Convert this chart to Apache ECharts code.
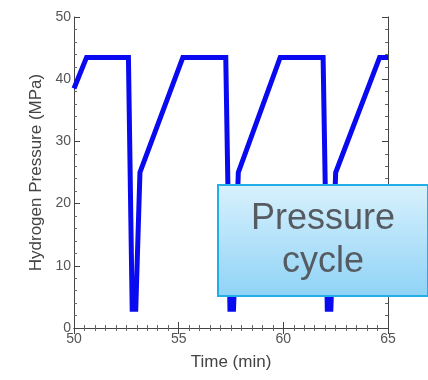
<!DOCTYPE html>
<html>
<head>
<meta charset="utf-8">
<script src="https://cdn.jsdelivr.net/npm/echarts@6/dist/echarts.min.js"></script>
<style>html,body{margin:0;padding:0;background:#fff}#c{width:428px;height:380px}</style>
</head>
<body>
<div id="c"></div>
<script>
const timeMin = [50, 50.6, 52.6, 52.78, 52.95, 53.15, 55.2, 57.25, 57.45, 57.62, 57.85, 59.85, 61.9, 62.1, 62.27, 62.5, 64.6, 65];
const pressureMPa = [38.5, 43.5, 43.5, 3, 3, 25, 43.5, 43.5, 3, 3, 25, 43.5, 43.5, 3, 3, 25, 43.5, 43.5];
const xTicks = [50, 55, 60, 65];
const yTicks = [0, 10, 20, 30, 40, 50];
const labelText = ['Pressure', 'cycle'];

const chart = echarts.init(document.getElementById('c'), null, {renderer: 'canvas'});
const axisCommon = {
  type: 'value',
  axisLine: {show: true, lineStyle: {color: '#444', width: 1}},
  axisTick: {show: true, inside: true, length: 6, lineStyle: {color: '#444'}},
  minorTick: {show: true, length: 3, lineStyle: {color: '#666'}},
  splitLine: {show: false},
  axisLabel: {color: '#555', fontSize: 14, fontFamily: 'Liberation Sans, Arial, sans-serif'}
};
const data = timeMin.map((t, i) => [t, pressureMPa[i]]);
chart.setOption({
  animation: false,
  backgroundColor: '#fff',
  grid: {left: 74, right: 40, top: 17, bottom: 52},
  xAxis: [
    Object.assign({}, axisCommon, {
      min: xTicks[0], max: xTicks[xTicks.length - 1], interval: 5, position: 'bottom',
      minorTick: Object.assign({}, axisCommon.minorTick, {splitNumber: 10}),
      axisLabel: Object.assign({}, axisCommon.axisLabel, {margin: 4}),
      name: 'Time (min)', nameLocation: 'middle', nameGap: 26,
      nameTextStyle: {color: '#444', fontSize: 17, fontFamily: 'Liberation Sans, Arial, sans-serif'}
    }),
    Object.assign({}, axisCommon, {
      min: xTicks[0], max: xTicks[xTicks.length - 1], interval: 5, position: 'top',
      minorTick: Object.assign({}, axisCommon.minorTick, {splitNumber: 10}),
      axisLabel: {show: false}
    })
  ],
  yAxis: [
    Object.assign({}, axisCommon, {
      min: yTicks[0], max: yTicks[yTicks.length - 1], interval: 10, position: 'left',
      minorTick: Object.assign({}, axisCommon.minorTick, {splitNumber: 5}),
      axisLabel: Object.assign({}, axisCommon.axisLabel, {margin: 3}),
      name: 'Hydrogen Pressure (MPa)', nameLocation: 'middle', nameGap: 27, nameRotate: 90,
      nameTextStyle: {color: '#444', fontSize: 17, fontFamily: 'Liberation Sans, Arial, sans-serif'}
    }),
    Object.assign({}, axisCommon, {
      min: yTicks[0], max: yTicks[yTicks.length - 1], interval: 10, position: 'right',
      minorTick: Object.assign({}, axisCommon.minorTick, {splitNumber: 5}),
      axisLabel: {show: false}
    })
  ],
  series: [{
    type: 'line', data: data, showSymbol: false, symbol: 'none',
    xAxisIndex: 0, yAxisIndex: 0, z: 2,
    lineStyle: {color: '#0a0af0', width: 5, join: 'miter'},
    clip: true
  }],
  graphic: [{
    type: 'group', left: 217, top: 184, z: 100,
    children: [
      {type: 'rect', z: 100, shape: {x: 0, y: 0, width: 210, height: 111},
       style: {
         fill: new echarts.graphic.LinearGradient(0, 0, 0, 1, [
           {offset: 0, color: '#d9f1fd'}, {offset: 1, color: '#8fd3f6'}
         ]),
         stroke: '#22aee6', lineWidth: 2, opacity: 1
       }},
      {type: 'text', z: 101, x: 105, y: 34,
       style: {text: labelText[0], fill: '#555b61', fontSize: 36, fontFamily: 'Liberation Sans, Arial, sans-serif', align: 'center', verticalAlign: 'middle'}},
      {type: 'text', z: 101, x: 105, y: 77,
       style: {text: labelText[1], fill: '#555b61', fontSize: 36, fontFamily: 'Liberation Sans, Arial, sans-serif', align: 'center', verticalAlign: 'middle'}}
    ]
  }]
});
</script>
</body>
</html>
